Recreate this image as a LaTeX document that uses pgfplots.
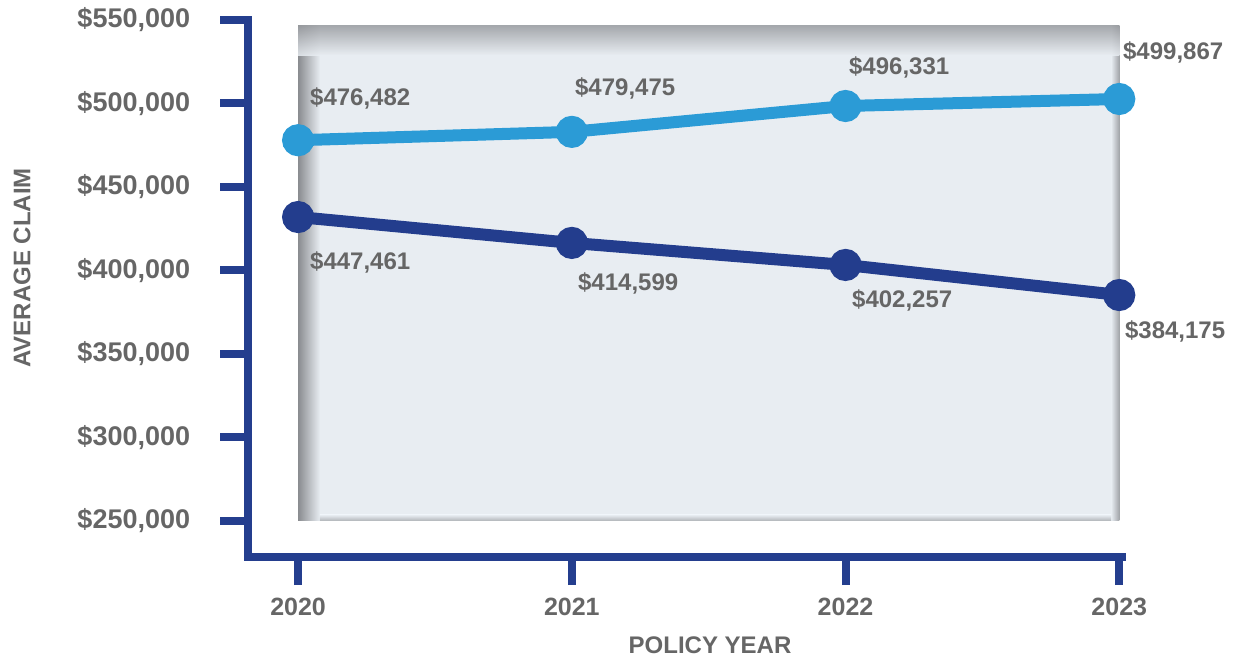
\documentclass[border=0pt]{standalone}
\usepackage{fontspec}
\setmainfont{Liberation Sans}
\usepackage{pgfplots}
\pgfplotsset{compat=1.18}

\definecolor{lightline}{RGB}{43,155,214}
\definecolor{darkline}{RGB}{35,61,141}
\definecolor{axisnavy}{RGB}{36,62,142}
\definecolor{txtgray}{RGB}{102,102,102}
\definecolor{panel}{RGB}{232,237,242}
\definecolor{panedge}{RGB}{138,140,144}

\begin{document}
\begin{tikzpicture}
\useasboundingbox (0,0) rectangle (620.5pt,330pt);
\begin{axis}[
    at={(124pt,51.5pt)}, anchor=south west,
    scale only axis, width=437pt, height=268.5pt,
    xmin=2019.817, xmax=2023.01,
    ymin=228400, ymax=550000,
    axis lines=left,
    axis line style={-, line width=4pt, color=axisnavy, line cap=rect},
    tick align=outside,
    major tick length=14pt,
    tick style={line width=4pt, color=axisnavy},
    scaled ticks=false,
    xtick={2020,2021,2022,2023},
    xticklabels={2020,2021,2022,2023},
    ytick={250000,300000,350000,400000,450000,500000,550000},
    yticklabels={},
    ticklabel style={font=\fontsize{12.5}{15}\selectfont\bfseries, text=txtgray},
    xticklabel style={yshift=-3pt},
    clip=false,
  ]
  % shaded panel behind the lines
  \fill[panel] (axis cs:2020,250000) rectangle (axis cs:2023,547000);
  \shade[left color=panedge, right color=panel]
    (axis cs:2020,250000) rectangle (axis cs:2020.08,547000);
  \shade[left color=panel, right color=panedge!75!panel]
    (axis cs:2022.97,250000) rectangle (axis cs:2023,547000);
  \shade[top color=panel, bottom color=panedge!60!panel]
    (axis cs:2020.08,250000) rectangle (axis cs:2022.97,253600);
  \shade[top color=panedge!85!panel, bottom color=panel, opacity=0.85]
    (axis cs:2020,529000) rectangle (axis cs:2023,547000);

  \addplot[lightline, line width=6pt, mark=*, mark size=5pt,
           mark options={draw=none, fill=lightline}]
    coordinates {(2020,478000) (2021,483000) (2022,498500) (2023,502700)};
  \addplot[darkline, line width=6pt, mark=*, mark size=5pt,
           mark options={draw=none, fill=darkline}]
    coordinates {(2020,432000) (2021,416500) (2022,403300) (2023,385300)};

  \tikzset{lbl/.style={font=\fontsize{12}{14}\selectfont\bfseries, text=txtgray},
           ylbl/.style={font=\fontsize{13.5}{16}\selectfont\bfseries, text=txtgray, anchor=east, inner sep=0pt}}
  % y tick labels
  \node[ylbl] at (axis cs:2019.607,550000) {\$550,000};
  \node[ylbl] at (axis cs:2019.607,500000) {\$500,000};
  \node[ylbl] at (axis cs:2019.607,450000) {\$450,000};
  \node[ylbl] at (axis cs:2019.607,400000) {\$400,000};
  \node[ylbl] at (axis cs:2019.607,350000) {\$350,000};
  \node[ylbl] at (axis cs:2019.607,300000) {\$300,000};
  \node[ylbl] at (axis cs:2019.607,250000) {\$250,000};

  % value labels
  \node[lbl] at (axis cs:2020.227,503300) {\$476,482};
  \node[lbl] at (axis cs:2021.195,509300) {\$479,475};
  \node[lbl] at (axis cs:2022.196,521300) {\$496,331};
  \node[lbl] at (axis cs:2023.197,530800) {\$499,867};
  \node[lbl] at (axis cs:2020.227,405100) {\$447,461};
  \node[lbl] at (axis cs:2021.206,392500) {\$414,599};
  \node[lbl] at (axis cs:2022.207,382300) {\$402,257};
  \node[lbl] at (axis cs:2023.204,363200) {\$384,175};

  \node[lbl, rotate=90] at (axis cs:2018.992,401500) {AVERAGE CLAIM};
  \node[lbl] at (axis cs:2021.505,175500) {POLICY YEAR};
\end{axis}
\end{tikzpicture}
\end{document}
